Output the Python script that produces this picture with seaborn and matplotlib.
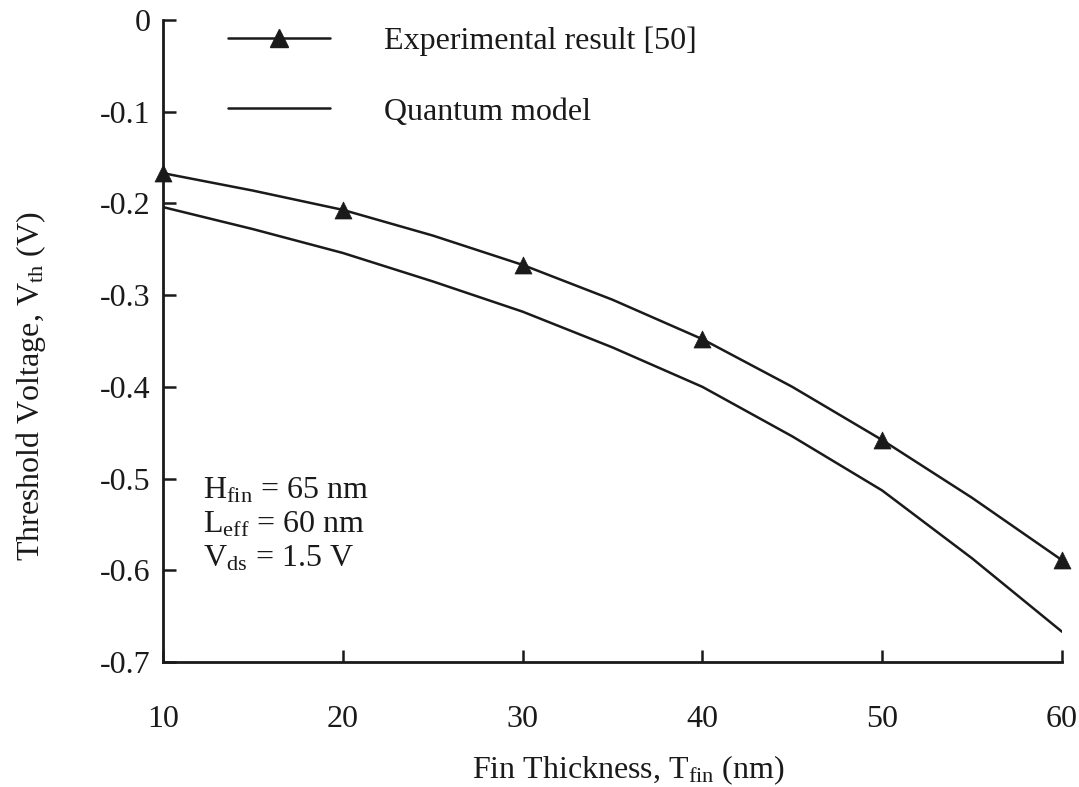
import matplotlib
matplotlib.use("Agg")
import matplotlib.pyplot as plt
from matplotlib.lines import Line2D
import seaborn as sns
import pandas as pd

# Experimental points (Fin thickness nm, Vth V)
exp_t = [10, 20, 30, 40, 50, 60]
exp_v = [-0.167, -0.207, -0.267, -0.348, -0.458, -0.589]

# Smooth experimental curve read at 5 nm steps
exp_curve_t = [10, 15, 20, 25, 30, 35, 40, 45, 50, 55, 60]
exp_curve_v = [-0.167, -0.186, -0.207, -0.235, -0.267, -0.305, -0.348, -0.400, -0.458, -0.521, -0.589]

# Quantum model curve read at 5 nm steps
model_t = [10, 15, 20, 25, 30, 35, 40, 45, 50, 55, 60]
model_v = [-0.204, -0.228, -0.254, -0.285, -0.318, -0.357, -0.400, -0.454, -0.513, -0.587, -0.667]

xticks = [10, 20, 30, 40, 50, 60]
yticks = [0, -0.1, -0.2, -0.3, -0.4, -0.5, -0.6, -0.7]
ytick_labels = ["0", "-0.1", "-0.2", "-0.3", "-0.4", "-0.5", "-0.6", "-0.7"]

sns.set_theme(style="white")
plt.rcParams["font.family"] = ["Liberation Serif", "DejaVu Serif"]
plt.rcParams["mathtext.fontset"] = "custom"
plt.rcParams["mathtext.rm"] = "Liberation Serif"
plt.rcParams["mathtext.it"] = "Liberation Serif:italic"

fig = plt.figure(figsize=(10.79, 7.87), dpi=100)
ax = fig.add_axes([163 / 1079, 1 - 662 / 787, (1062 - 163) / 1079, (662 - 20) / 787])

col = "#1a1a1a"
fs = 23
df_exp_curve = pd.DataFrame({"t": exp_curve_t, "v": exp_curve_v})
df_model = pd.DataFrame({"t": model_t, "v": model_v})
df_exp = pd.DataFrame({"t": exp_t, "v": exp_v})

sns.lineplot(data=df_exp_curve, x="t", y="v", ax=ax, color=col, linewidth=1.8, sort=True)
sns.lineplot(data=df_model, x="t", y="v", ax=ax, color=col, linewidth=1.8, sort=True)
sns.scatterplot(data=df_exp, x="t", y="v", ax=ax, marker="^", s=150, color=col,
                edgecolor=col, linewidth=0.5, clip_on=False, zorder=5)

ax.set_xlim(10, 60)
ax.set_ylim(-0.7, 0)
ax.set_xticks(xticks)
ax.set_yticks(yticks)
ax.set_yticklabels(ytick_labels)

for s in ["top", "right"]:
    ax.spines[s].set_visible(False)
for s in ["left", "bottom"]:
    ax.spines[s].set_color(col)
    ax.spines[s].set_linewidth(2.0)

ax.tick_params(axis="both", direction="in", length=9, width=1.8, color=col,
               labelsize=fs, labelcolor=col, bottom=True, left=True)
ax.tick_params(axis="x", pad=31)
ax.tick_params(axis="y", pad=9)

ax.set_xlabel("Fin Thickness, T$_{\\rm fin}$ (nm)", fontsize=fs, color=col)
ax.set_ylabel("Threshold Voltage, V$_{\\rm th}$ (V)", fontsize=fs, color=col)
ax.xaxis.set_label_coords(0.518, -0.143)
ax.yaxis.set_label_coords(-0.128, 0.43)

handles = [
    Line2D([], [], color=col, linewidth=1.8, marker="^", markersize=13),
    Line2D([], [], color=col, linewidth=1.8),
]
leg = ax.legend(handles, ["Experimental result [50]", "Quantum model"],
                loc="upper left", bbox_to_anchor=(0.040, 1.035), frameon=False,
                fontsize=fs, handlelength=3.2, handletextpad=1.7, labelspacing=1.3,
                labelcolor=col)

ax.text(0.045, 0.29, "H$_{\\rm fin}$ = 65 nm\nL$_{\\rm eff}$ = 60 nm\nV$_{\\rm ds}$ = 1.5 V",
        transform=ax.transAxes, fontsize=fs, color=col, va="top", ha="left",
        linespacing=1.2)

fig.savefig("out.png", dpi=100)
